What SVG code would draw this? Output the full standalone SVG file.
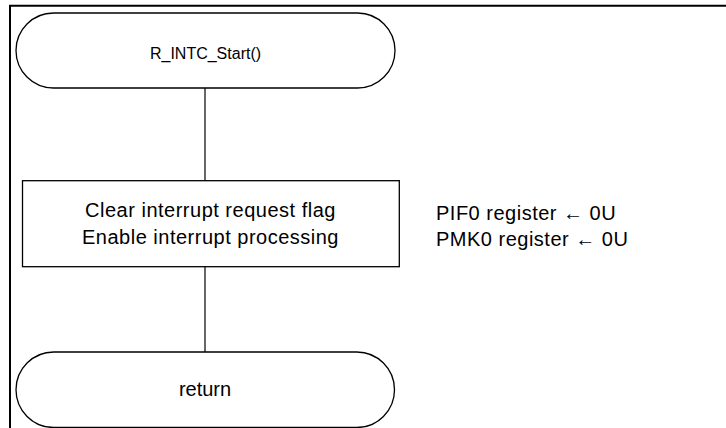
<svg xmlns="http://www.w3.org/2000/svg" width="726" height="428" viewBox="0 0 726 428">
<style>
.shape{fill:#fff;stroke:#000;stroke-width:1.3}
.conn{stroke:#000;stroke-width:1.2;fill:none}
.frame{stroke:#000;stroke-width:2;fill:none}
.t{font-family:"Liberation Sans",Arial,sans-serif;font-size:20px;fill:#000}
.ls{letter-spacing:0.5px}
.tj{font-family:"Liberation Sans",Arial,sans-serif;font-size:16px;fill:#000}
</style>
<rect width="726" height="428" fill="#fff"/>
<path class="frame" d="M10,428 V5.7 H726"/>
<g id="connectors">
<line class="conn" x1="205" y1="88" x2="205" y2="180.7"/>
<line class="conn" x1="205" y1="266.7" x2="205" y2="352"/>
</g>
<g id="start">
<rect class="shape" x="16" y="13" width="379" height="75" rx="37.5" ry="37.5"/>
<text class="tj" x="205.5" y="58.5" text-anchor="middle">R_INTC_Start()</text>
</g>
<g id="process">
<rect class="shape" x="22.5" y="180.7" width="376.8" height="86"/>
<text class="t ls" x="210.5" y="217" text-anchor="middle">Clear interrupt request flag</text>
<text class="t ls" x="210.5" y="243.5" text-anchor="middle">Enable interrupt processing</text>
</g>
<g id="note">
<text class="t ls" x="436" y="219.5">PIF0 register ← 0U</text>
<text class="t ls" x="436" y="245.5">PMK0 register ← 0U</text>
</g>
<g id="end">
<rect class="shape" x="16" y="352" width="378.5" height="75.5" rx="37.75" ry="37.75"/>
<text class="t" x="205" y="395.7" text-anchor="middle">return</text>
</g>
</svg>
